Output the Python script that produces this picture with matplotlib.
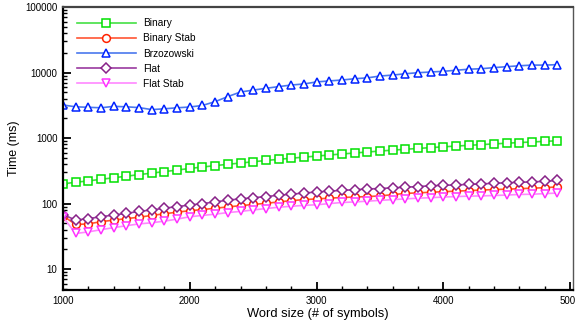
import matplotlib
matplotlib.use('Agg')
import matplotlib.pyplot as plt
from matplotlib.ticker import MultipleLocator, LogLocator, NullFormatter, FixedLocator
import numpy as np

plt.rcParams['font.family'] = ['Liberation Sans', 'DejaVu Sans']

word_size = list(range(1000, 5000, 100))

binary = [200, 212, 222, 235, 248, 262, 277, 292, 308, 325, 344, 362, 380, 398,
          416, 435, 455, 474, 493, 512, 531, 552, 572, 592, 613, 634, 655, 675,
          695, 715, 736, 755, 775, 795, 815, 835, 855, 872, 892, 910]
binary_stab = [65, 48, 49, 53, 56, 59, 62, 66, 70, 74, 78, 81, 85, 89, 93, 97,
               101, 106, 111, 115, 118, 121, 124, 126, 128, 131, 137, 143, 146,
               149, 152, 155, 158, 161, 164, 166, 169, 172, 175, 180]
brzozowski = [3200, 3000, 2950, 2900, 3050, 3000, 2920, 2720, 2800, 2900, 2980,
              3150, 3600, 4300, 5050, 5400, 5750, 6100, 6450, 6700, 7200, 7450,
              7700, 8050, 8300, 8850, 9150, 9600, 9950, 10200, 10450, 10850,
              11250, 11450, 11900, 12300, 12700, 13000, 13000, 13200]
flat = [68, 56, 59, 63, 67, 71, 76, 80, 85, 90, 95, 100, 106, 113, 118, 123, 128,
        134, 139, 145, 150, 155, 159, 163, 167, 170, 174, 178, 182, 187, 190,
        193, 196, 200, 204, 208, 211, 215, 218, 226]
flat_stab = [62, 35, 37, 40, 43, 46, 49, 51, 54, 58, 63, 66, 69, 73, 76, 80, 84,
             88, 91, 94, 96, 100, 104, 106, 109, 112, 115, 118, 121, 123, 126,
             128, 130, 131, 133, 135, 138, 139, 142, 145]

series = [
    ('Binary', binary, 's', '#44e044', '#00e000'),
    ('Binary Stab', binary_stab, 'o', '#ff5533', '#ff2200'),
    ('Brzozowski', brzozowski, '^', '#4a78ee', '#0022ff'),
    ('Flat', flat, 'D', '#9a3aa0', '#882288'),
    ('Flat Stab', flat_stab, 'v', '#ff88ff', '#ff33ff'),
]

fig = plt.figure(figsize=(5.75, 3.26), dpi=100)
ax = fig.add_axes([0.1096, 0.1104, 0.8864, 0.868])

for name, vals, mk, lc, mc in series:
    ms = 4.9 if mk == 'D' else 5.6
    ax.plot(word_size, vals, color=lc, lw=1.2, marker=mk, markersize=ms,
            markerfacecolor='white', markeredgecolor=mc, markeredgewidth=1.1,
            label=name)

ax.set_yscale('log')
ax.set_xlim(1000, 5020)
ax.set_ylim(4.8, 100000)

ax.xaxis.set_major_locator(FixedLocator([1000, 2000, 3000, 4000, 5000]))
ax.xaxis.set_minor_locator(MultipleLocator(200))
ax.yaxis.set_minor_locator(LogLocator(base=10, subs=np.arange(2, 10), numticks=20))
ax.yaxis.set_minor_formatter(NullFormatter())
ax.set_yticks([10, 100, 1000, 10000, 100000])
ax.set_yticklabels(['10', '100', '1000', '10000', '100000'])

ax.tick_params(which='both', direction='in', top=False, right=False,
               labelsize=7, colors='black')
ax.tick_params(which='major', length=6, width=1.3, pad=4)
ax.tick_params(which='minor', length=3, width=1)

for s in ['left', 'bottom']:
    ax.spines[s].set_linewidth(1.6)
    ax.spines[s].set_color('black')
ax.spines['top'].set_linewidth(1.6)
ax.spines['top'].set_color('#444444')
ax.spines['right'].set_linewidth(1.0)
ax.spines['right'].set_color('#555555')

ax.set_xlabel('Word size (# of symbols)', fontsize=9.3, labelpad=1.5)
ax.set_ylabel('Time (ms)', fontsize=9, labelpad=4)

ax.legend(loc='upper left', frameon=False, fontsize=7.3, handlelength=5.8,
          labelspacing=0.5, borderaxespad=0.72, handletextpad=0.7,
          bbox_to_anchor=(0.005, 1.0))

fig.savefig('out.png', dpi=100)
